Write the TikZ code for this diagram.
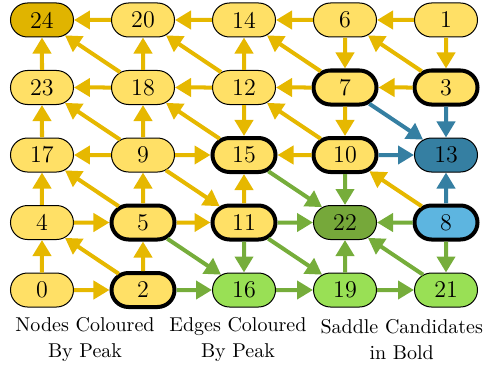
\documentclass[tikz,border=0pt]{standalone}
\usepackage{tikz}
\usetikzlibrary{shapes.misc,arrows.meta}

\definecolor{nodeyellow}{HTML}{FFE066}
\definecolor{peakyellow}{HTML}{E0B400}
\definecolor{edgeyellow}{HTML}{E6B800}
\definecolor{edgegreen}{HTML}{76AD3B}
\definecolor{peakgreen}{HTML}{76A83A}
\definecolor{nodegreen}{HTML}{99E055}
\definecolor{peakblue}{HTML}{357FA2}
\definecolor{nodeblue}{HTML}{5DB5E0}

\tikzset{
  vert/.style={draw, rounded rectangle, minimum width=33.5pt, minimum height=17pt,
    inner sep=1pt, line width=.5pt, fill=nodeyellow, font=\fontsize{12}{14}\selectfont},
  cand/.style={line width=2pt},
  yarr/.style={-{Triangle[length=8pt,width=9pt]}, line width=2pt, draw=edgeyellow},
  garr/.style={yarr, draw=edgegreen},
  barr/.style={yarr, draw=peakblue},
  capt/.style={align=center, font=\fontsize{10}{13}\selectfont},
}

\begin{document}
\begin{tikzpicture}[x=50.5pt, y=33.75pt]
  \useasboundingbox (-0.4158, -1.1852) rectangle (4.4356, 4.2963);

  % top row
  \node[vert, fill=peakyellow] (n24) at (0, 4) {24};
  \node[vert] (n20) at (1, 4) {20};
  \node[vert] (n14) at (2, 4) {14};
  \node[vert] (n6)  at (3, 4) {6};
  \node[vert] (n1)  at (4, 4) {1};

  \node[vert] (n23) at (0, 3) {23};
  \node[vert] (n18) at (1, 3) {18};
  \node[vert] (n12) at (2, 3) {12};
  \node[vert, cand] (n7) at (3, 3) {7};
  \node[vert, cand] (n3) at (4, 3) {3};

  \node[vert] (n17) at (0, 2) {17};
  \node[vert] (n9)  at (1, 2) {9};
  \node[vert, cand] (n15) at (2, 2) {15};
  \node[vert, cand] (n10) at (3, 2) {10};
  \node[vert, fill=peakblue] (n13) at (4, 2) {13};

  \node[vert] (n4) at (0, 1) {4};
  \node[vert, cand] (n5)  at (1, 1) {5};
  \node[vert, cand] (n11) at (2, 1) {11};
  \node[vert, fill=peakgreen] (n22) at (3, 1) {22};
  \node[vert, cand, fill=nodeblue] (n8) at (4, 1) {8};

  % bottom row
  \node[vert] (n0) at (0, 0) {0};
  \node[vert, cand] (n2) at (1, 0) {2};
  \node[vert, fill=nodegreen] (n16) at (2, 0) {16};
  \node[vert, fill=nodegreen] (n19) at (3, 0) {19};
  \node[vert, fill=nodegreen] (n21) at (4, 0) {21};

  % edges
  \foreach \a/\b in {20/24, 14/20, 6/14, 1/6, 23/24, 18/20, 12/14, 6/7, 1/3,
      18/24, 12/20, 7/14, 3/6, 18/23, 12/18, 7/12, 3/7, 17/23, 9/18, 12/15,
      7/10, 9/23, 15/18, 10/12, 9/17, 9/15, 10/15, 4/17, 5/9, 11/15, 5/17,
      9/11, 8/10, 4/5, 5/11, 0/4, 2/5, 2/4, 0/2}
    \draw[yarr] (n\a) -- (n\b);
  \foreach \a/\b in {3/13, 7/13, 10/13, 8/13}
    \draw[barr] (n\a) -- (n\b);
  \foreach \a/\b in {10/22, 15/22, 11/22, 8/22, 11/16, 19/22, 8/21, 5/16,
      11/19, 21/22, 2/16, 16/19, 19/21}
    \draw[garr] (n\a) -- (n\b);

  % captions
  \node[capt] (capnodes) at (0.426, -0.74) {Nodes Coloured\\By Peak};
  \node[capt] (capedges) at (1.94, -0.74) {Edges Coloured\\By Peak};
  \node[capt, anchor=east] (capbold) at (4.4356, -0.74) {Saddle Candidates\\in Bold};
\end{tikzpicture}
\end{document}
